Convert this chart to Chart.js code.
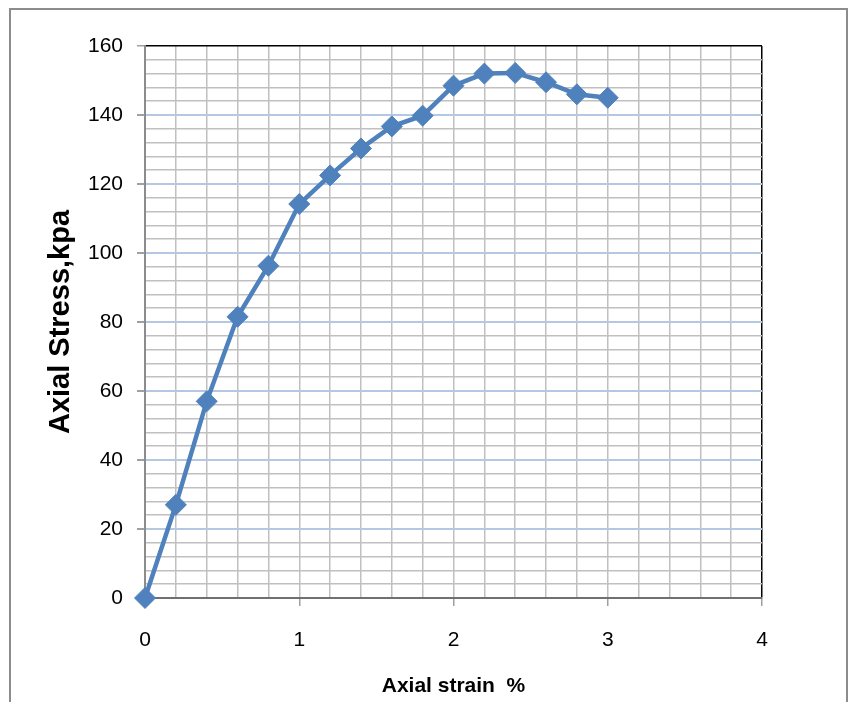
<!DOCTYPE html>
<html lang="en">
<head>
  <meta charset="UTF-8" />
  <title>Axial Stress vs Axial Strain</title>
  <script src="https://cdn.jsdelivr.net/npm/chart.js"></script>
  <style>
    body { margin: 0; padding: 0; background: #fff; }
    .chart-box { width: 853px; height: 702px; position: relative; }
  </style>
</head>
<body>
  <div class="chart-box">
    <canvas id="stressChart"></canvas>
  </div>
  <script>
    // Readings taken off the reference chart
    const strainPct = [0, 0.2, 0.4, 0.6, 0.8, 1.0, 1.2, 1.4, 1.6, 1.8, 2.0, 2.2, 2.4, 2.6, 2.8, 3.0];
    const stressKpa = [0, 27, 57, 81.5, 96.3, 114.2, 122.5, 130.3, 136.7, 139.8, 148.5, 152, 152.2, 149.5, 146, 145];
    const xTitle = 'Axial strain  %';
    const yTitle = 'Axial Stress,kpa';

    const points = strainPct.map((x, i) => ({ x: x, y: stressKpa[i] }));
    const isWhole = (v, step) => Math.abs(v / step - Math.round(v / step)) < 1e-6;

    // outer frame around the figure
    const framePlugin = {
      id: 'frame',
      beforeDraw(chart) {
        const ctx = chart.ctx;
        ctx.save();
        ctx.strokeStyle = '#8c8c8c';
        ctx.lineWidth = 2;
        ctx.strokeRect(10, 9, 837, 720);
        ctx.restore();
      }
    };

    const ctx = document.getElementById('stressChart').getContext('2d');
    new Chart(ctx, {
      type: 'line',
      data: {
        datasets: [{
          data: points,
          borderColor: '#4f81bd',
          backgroundColor: '#4f81bd',
          borderWidth: 4.5,
          pointStyle: 'rectRot',
          pointRadius: 10.5,
          pointBorderWidth: 1,
          pointBorderColor: '#4f81bd',
          tension: 0,
          clip: false
        }]
      },
      options: {
        responsive: true,
        maintainAspectRatio: false,
        animation: false,
        layout: { padding: { left: 44, top: 46, right: 91, bottom: 0 } },
        plugins: { legend: { display: false }, tooltip: { enabled: false } },
        scales: {
          x: {
            type: 'linear',
            min: 0, max: 4,
            afterFit(scale) { scale.height = 104; },
            ticks: {
              stepSize: 0.2,
              autoSkip: false,
              maxRotation: 0,
              padding: 22,
              color: '#000',
              font: { family: 'Liberation Sans', size: 21 },
              callback: v => isWhole(v, 1) ? String(Math.round(v)) : ''
            },
            grid: {
              color: c => {
                const v = c.tick.value;
                if (isWhole(v, 4) && v > 0) return '#000';
                return '#c0c0c0';
              },
              lineWidth: 1.5,
              tickColor: c => isWhole(c.tick.value, 1) ? '#a0a0a0' : 'rgba(0,0,0,0)',
              tickLength: 8
            },
            border: { color: '#707070', width: 2 },
            title: {
              display: true,
              text: xTitle,
              color: '#000',
              font: { family: 'Liberation Sans', size: 21, weight: 'bold' },
              padding: { top: 4, bottom: 3 }
            }
          },
          y: {
            min: 0, max: 160,
            afterFit(scale) { scale.width = 101; },
            ticks: {
              stepSize: 4,
              autoSkip: false,
              padding: 14,
              color: '#000',
              font: { family: 'Liberation Sans', size: 21 },
              callback: v => isWhole(v, 20) ? String(v) : ''
            },
            grid: {
              color: c => {
                const v = c.tick.value;
                if (v === 160) return '#000';
                if (isWhole(v, 20)) return '#b4c8e4';
                return '#c0c0c0';
              },
              lineWidth: c => (isWhole(c.tick.value, 20) && c.tick.value < 160) ? 2 : 1.5,
              tickColor: c => isWhole(c.tick.value, 20) ? '#a0a0a0' : 'rgba(0,0,0,0)',
              tickLength: 8
            },
            border: { color: '#8c8c8c', width: 2 },
            title: {
              display: true,
              text: yTitle,
              color: '#000',
              font: { family: 'Liberation Sans', size: 29, weight: 'bold' },
              padding: { top: 0, bottom: 0 }
            }
          }
        }
      },
      plugins: [framePlugin]
    });
  </script>
</body>
</html>
